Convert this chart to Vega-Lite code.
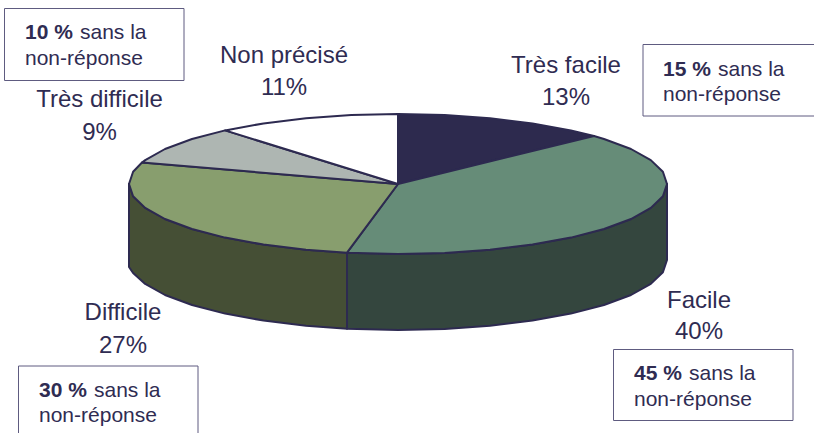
{
"$schema":"https://vega.github.io/schema/vega-lite/v6.json",
"width":814,"height":433,"padding":0,
"autosize":{"type":"fit","contains":"padding"},
"background":"white",
"config":{"view":{"stroke":null},"font":"Liberation Sans"},
"datasets":{
"tarte":[
{"type":"Feature","properties":{"partie":"Facile côté","valeur":40},"geometry":{"type":"Polygon","coordinates":[[[269,0],[264.9,-12.2],[252.8,-23.9],[233,-35],[206,-45],[172.9,-53.6],[134.5,-60.6],[92,-65.8],[46.7,-68.9],[0,-70],[-51,-68.7],[-51,-144.7],[0,-146],[46.7,-144.9],[92,-141.8],[134.5,-136.6],[172.9,-129.6],[206,-121],[233,-111],[252.8,-99.9],[264.9,-88.2],[269,-76],[269,0]]]}},
{"type":"Feature","properties":{"partie":"Difficile côté","valeur":27},"geometry":{"type":"Polygon","coordinates":[[[-51,-68.7],[-92,-65.8],[-134.5,-60.6],[-172.9,-53.6],[-206,-45],[-233,-35],[-252.8,-23.9],[-264.9,-12.2],[-269,0],[-269,-83],[-264.9,-89],[-252.8,-99.9],[-233,-111],[-206,-121],[-172.9,-129.6],[-134.5,-136.6],[-92,-141.8],[-51,-144.7],[-51,-68.7]]]}},
{"type":"Feature","properties":{"partie":"Très facile","valeur":13},"geometry":{"type":"Polygon","coordinates":[[[0,0],[0,70],[46.7,68.9],[92,65.8],[134.5,60.6],[172.9,53.6],[196,48],[0,0]]]}},
{"type":"Feature","properties":{"partie":"Facile","valeur":40},"geometry":{"type":"Polygon","coordinates":[[[0,0],[196,48],[206,45],[233,35],[252.8,23.9],[264.9,12.2],[269,0],[264.9,-12.2],[252.8,-23.9],[233,-35],[206,-45],[172.9,-53.6],[134.5,-60.6],[92,-65.8],[46.7,-68.9],[0,-70],[-51,-68.7],[0,0]]]}},
{"type":"Feature","properties":{"partie":"Difficile","valeur":27},"geometry":{"type":"Polygon","coordinates":[[[0,0],[-51,-68.7],[-92,-65.8],[-134.5,-60.6],[-172.9,-53.6],[-206,-45],[-233,-35],[-252.8,-23.9],[-264.9,-12.2],[-269,0],[-264.9,12.2],[-256,21.5],[0,0]]]}},
{"type":"Feature","properties":{"partie":"Très difficile","valeur":9},"geometry":{"type":"Polygon","coordinates":[[[0,0],[-256,21.5],[-252.8,23.9],[-233,35],[-206,45],[-172.9,53.6],[0,0]]]}},
{"type":"Feature","properties":{"partie":"Non précisé","valeur":11},"geometry":{"type":"Polygon","coordinates":[[[0,0],[-172.9,53.6],[-134.5,60.6],[-92,65.8],[-46.7,68.9],[0,70],[0,0]]]}}
],
"etiquettes":[
{"texte":"Très facile","x":168,"y":111},{"texte":"13%","x":168,"y":79},
{"texte":"Facile","x":301,"y":-124},{"texte":"40%","x":301,"y":-155},
{"texte":"Difficile","x":-275,"y":-136},{"texte":"27%","x":-275,"y":-169},
{"texte":"Très difficile","x":-298.5,"y":77},{"texte":"9%","x":-298.5,"y":44},
{"texte":"Non précisé","x":-114,"y":121},{"texte":"11%","x":-114,"y":89}
],
"encadres":[
{"pct":"15 %","x0":245,"x1":430,"y0":139.5,"y1":68,"xt":265,"xs":320,"yt1":108,"yt2":83},
{"pct":"45 %","x0":215.5,"x1":395,"y0":-165.5,"y1":-236.5,"xt":236,"xs":291,"yt1":-196,"yt2":-222},
{"pct":"30 %","x0":-379.5,"x1":-200,"y0":-182,"y1":-262,"xt":-359,"xs":-304,"yt1":-213,"yt2":-238},
{"pct":"10 %","x0":-393.5,"x1":-214,"y0":175.5,"y1":103.5,"xt":-373,"xs":-318,"yt1":145,"yt2":119}
]
},
"layer":[
{"data":{"name":"tarte"},
 "mark":{"type":"geoshape","stroke":"#2d2a50","strokeWidth":2,"strokeJoin":"round"},
 "projection":{"type":"identity","reflectY":true,"scale":1,"translate":[398,184]},
 "encoding":{"color":{"field":"properties.partie","type":"nominal","legend":null,
  "scale":{"domain":["Très facile","Facile","Difficile","Très difficile","Non précisé","Facile côté","Difficile côté"],
  "range":["#2d2a4e","#668c78","#889e6e","#aeb6b2","#ffffff","#34463e","#454f35"]}}}},
{"data":{"name":"encadres"},
 "mark":{"type":"rect","fill":"white","stroke":"#5e5b80","strokeWidth":1,"clip":true},
 "encoding":{
  "x":{"field":"x0","type":"quantitative","scale":{"domain":[-398,416]},"axis":null},
  "x2":{"field":"x1"},
  "y":{"field":"y0","type":"quantitative","scale":{"domain":[-249,184]},"axis":null},
  "y2":{"field":"y1"}}},
{"data":{"name":"encadres"},
 "mark":{"type":"text","align":"left","baseline":"alphabetic","fontSize":21,"fontWeight":"bold","color":"#2f2c52"},
 "encoding":{"x":{"field":"xt","type":"quantitative","scale":{"domain":[-398,416]},"axis":null},"y":{"field":"yt1","type":"quantitative","scale":{"domain":[-249,184]},"axis":null},"text":{"field":"pct"}}},
{"data":{"name":"encadres"},
 "mark":{"type":"text","align":"left","baseline":"alphabetic","fontSize":21,"color":"#2f2c52"},
 "encoding":{"x":{"field":"xs","type":"quantitative","scale":{"domain":[-398,416]},"axis":null},"y":{"field":"yt1","type":"quantitative","scale":{"domain":[-249,184]},"axis":null},"text":{"value":"sans la"}}},
{"data":{"name":"encadres"},
 "mark":{"type":"text","align":"left","baseline":"alphabetic","fontSize":21,"color":"#2f2c52"},
 "encoding":{"x":{"field":"xt","type":"quantitative","scale":{"domain":[-398,416]},"axis":null},"y":{"field":"yt2","type":"quantitative","scale":{"domain":[-249,184]},"axis":null},"text":{"value":"non-réponse"}}},
{"data":{"name":"etiquettes"},
 "mark":{"type":"text","align":"center","baseline":"alphabetic","fontSize":24,"color":"#2f2c52"},
 "encoding":{"x":{"field":"x","type":"quantitative","scale":{"domain":[-398,416]},"axis":null},"y":{"field":"y","type":"quantitative","scale":{"domain":[-249,184]},"axis":null},"text":{"field":"texte"}}}
]
}
